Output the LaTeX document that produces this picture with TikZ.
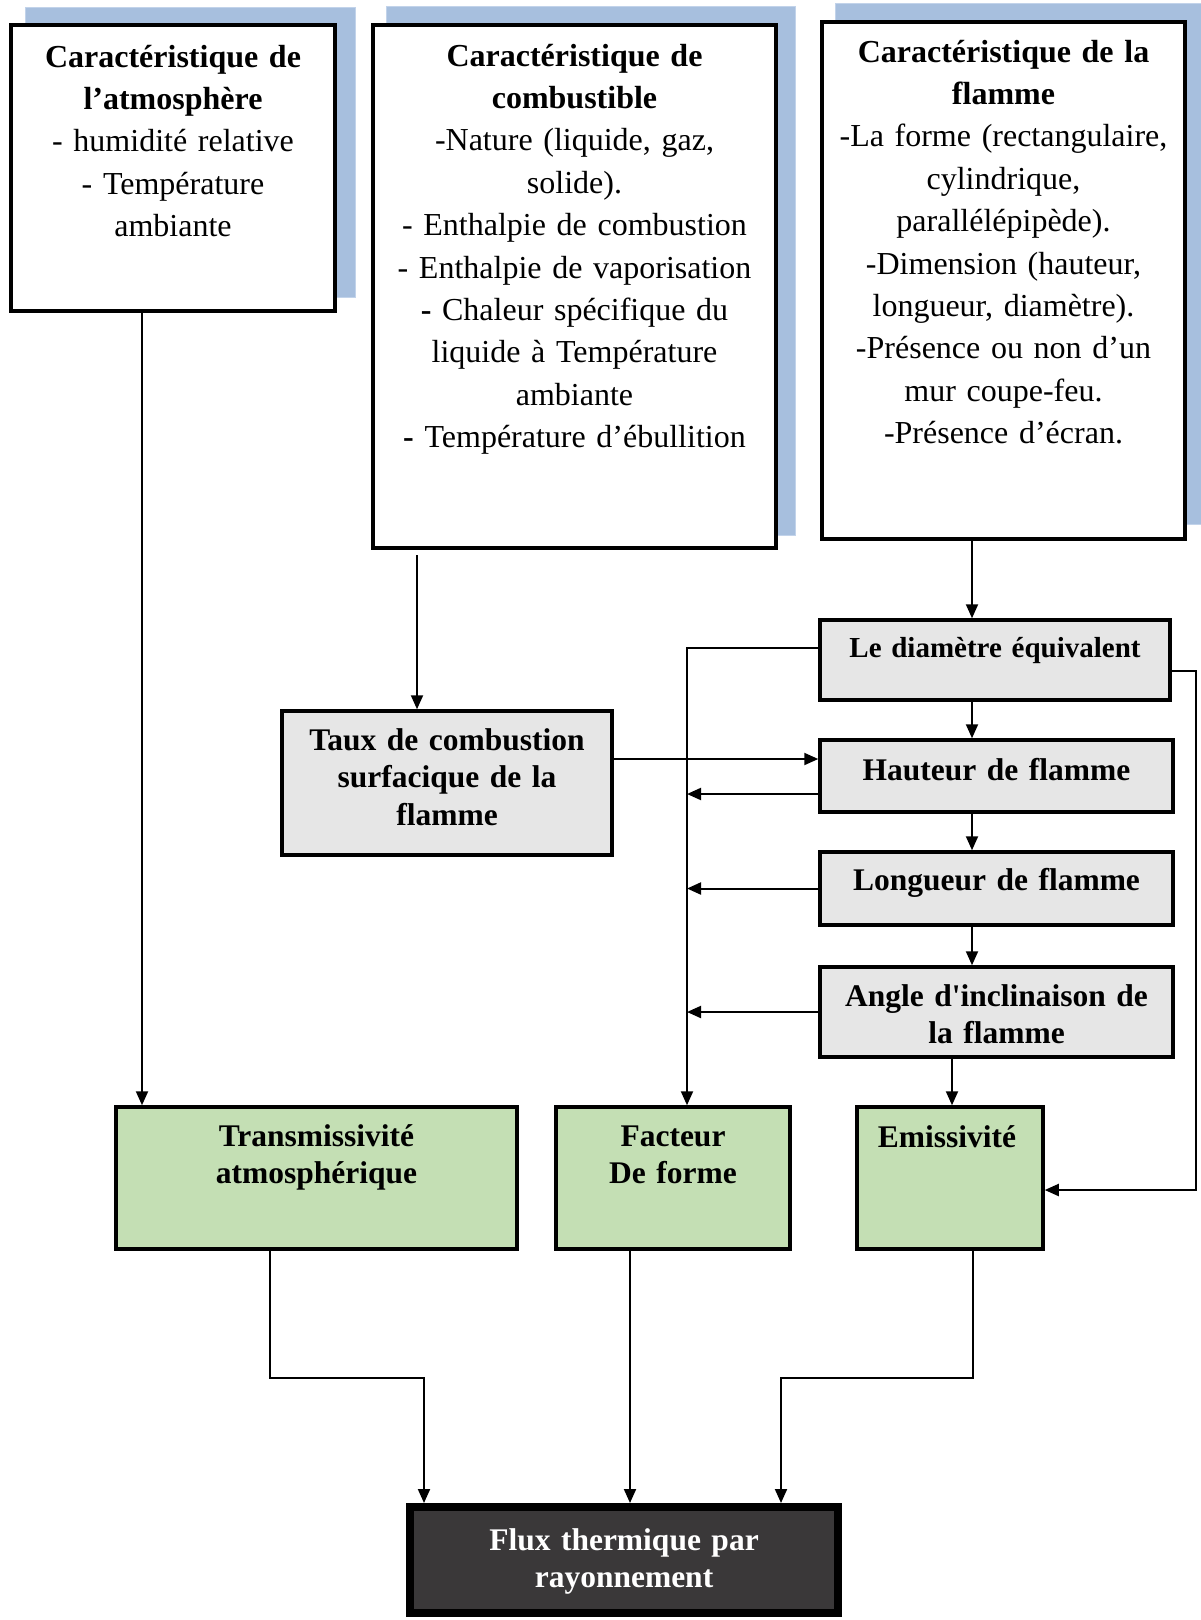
\documentclass[tikz,border=0pt]{standalone}
\usepackage{fontspec}
\setmainfont{Liberation Serif}
\usetikzlibrary{arrows.meta}
\definecolor{shadowblue}{HTML}{A7BFDE}
\definecolor{shadowedge}{HTML}{C2D3EA}
\definecolor{boxgray}{HTML}{E6E6E6}
\definecolor{boxgreen}{HTML}{C4DFB4}
\definecolor{boxdark}{HTML}{3A3839}
\begin{document}
\begin{tikzpicture}[x=1pt,y=-1pt,
  frame/.style={draw=black,fill=white,line width=4pt,inner sep=0pt},
  grayb/.style={draw=black,fill=boxgray,line width=3.5pt,inner sep=0pt},
  greenb/.style={draw=black,fill=boxgreen,line width=3.5pt,inner sep=0pt},
  darkb/.style={draw=black,fill=boxdark,line width=8pt,inner sep=0pt},
  shadowbox/.style={fill=shadowblue,draw=shadowedge,line width=1pt},
  txt/.style={anchor=base,align=center,inner sep=0pt,text width=420pt,font=\fontsize{32}{42.4}\selectfont},
  stxt/.style={anchor=base,align=center,inner sep=0pt,text width=420pt,font=\bfseries\fontsize{31.5}{37.5}\selectfont},
  arr/.style={line width=2pt,-{Triangle[length=14pt,width=12pt]}}
]
\useasboundingbox (0,0) rectangle (1200,1620);

% shadows of the three top boxes
\draw[shadowbox] (25,7) rectangle (355,297);
\draw[shadowbox] (386,6) rectangle (795,535);
\draw[shadowbox] (835,3) rectangle (1201,524);

% boxes
\node[frame,minimum width=324pt,minimum height=286pt] (atm) at (173,168) {};
\node[frame,minimum width=403pt,minimum height=523pt] (comb) at (574.5,286.5) {};
\node[frame,minimum width=363pt,minimum height=517pt] (flam) at (1003.5,280.5) {};

\node[grayb,minimum width=350pt,minimum height=80pt] (diam) at (995,660) {};
\node[grayb,minimum width=353pt,minimum height=72pt] (haut) at (996.5,776) {};
\node[grayb,minimum width=353pt,minimum height=73pt] (long) at (996.5,888.5) {};
\node[grayb,minimum width=353pt,minimum height=90pt] (angle) at (996.5,1012) {};
\node[grayb,minimum width=330pt,minimum height=144pt] (taux) at (447,783) {};

\node[greenb,minimum width=401pt,minimum height=142pt] (trans) at (316.5,1178) {};
\node[greenb,minimum width=234pt,minimum height=142pt] (fact) at (673,1178) {};
\node[greenb,minimum width=186pt,minimum height=142pt] (emis) at (950,1178) {};

\node[darkb,minimum width=428pt,minimum height=106pt] (flux) at (624,1560) {};

% texts
\node[txt] (atm-t) at (173,67) {\textbf{Caractéristique de}\\\textbf{l’atmosphère}\\- humidité relative\\- Température\\ambiante};
\node[txt] (comb-t) at (574.5,66) {\textbf{Caractéristique de}\\\textbf{combustible}\\-Nature (liquide, gaz,\\solide).\\- Enthalpie de combustion\\- Enthalpie de vaporisation\\\textbf{-} Chaleur spécifique du\\liquide à Température\\ambiante\\\textbf{-} Température d’ébullition};
\node[txt] (flam-t) at (1003.5,62) {\textbf{Caractéristique de la}\\\textbf{flamme}\\-La forme (rectangulaire,\\cylindrique,\\parallélépipède).\\-Dimension (hauteur,\\longueur, diamètre).\\-Présence ou non d’un\\mur coupe-feu.\\-Présence d’écran.};

\node[stxt,font=\bfseries\fontsize{29}{37.5}\selectfont] (diam-t) at (995,657) {Le diamètre équivalent};
\node[stxt] (haut-t) at (996.5,780) {Hauteur de flamme};
\node[stxt] (long-t) at (996.5,890) {Longueur de flamme};
\node[stxt] (angle-t) at (996.5,1006) {Angle d\textquotesingle inclinaison de\\la flamme};
\node[stxt] (taux-t) at (447,750) {Taux de combustion\\surfacique de la\\flamme};

\node[stxt] (trans-t) at (316.5,1146) {Transmissivité\\atmosphérique};
\node[stxt] (fact-t) at (673,1146) {Facteur\\De forme};
\node[stxt] (emis-t) at (947,1147) {Emissivité};

\node[stxt,text=white] (flux-t) at (624,1550) {Flux thermique par\\rayonnement};

% connector levels
\coordinate (xa) at (142,0);
\coordinate (xb) at (417,0);
\coordinate (xc) at (972,0);
\coordinate (xd) at (952,0);
\coordinate (xbus) at (687,0);
\coordinate (xr) at (1196,0);
\coordinate (xt) at (270,0);
\coordinate (xe) at (973,0);
\coordinate (xf1) at (424,0);
\coordinate (xf2) at (630,0);
\coordinate (xf3) at (781,0);
\coordinate (yj) at (0,1378);
\coordinate (combgap) at ([yshift=-5pt]comb.south);
\coordinate (yd) at ([yshift=12pt]diam.west);
\coordinate (yh) at ([yshift=-18pt]haut.west);
\coordinate (yt) at ([yshift=24pt]taux.east);
\coordinate (ydr) at ([yshift=-11pt]diam.east);
\coordinate (yer) at ([yshift=-12pt]emis.east);

% connectors
\draw[arr] (atm.south -| xa) -- (trans.north -| xa);
\draw[arr] (combgap -| xb) -- (taux.north -| xb);
\draw[arr] (flam.south -| xc) -- (diam.north -| xc);
\draw[arr] (diam.south -| xc) -- (haut.north -| xc);
\draw[arr] (haut.south -| xc) -- (long.north -| xc);
\draw[arr] (long.south -| xc) -- (angle.north -| xc);
\draw[arr] (angle.south -| xd) -- (emis.north -| xd);

\draw[arr] (yd) -| (fact.north -| xbus);
\draw[arr] (yh) -- (yh -| xbus);
\draw[arr] (long.west) -- (long.west -| xbus);
\draw[arr] (angle.west) -- (angle.west -| xbus);
\draw[arr] (yt) -- (yt -| haut.west);
\draw[arr] (ydr) -- (ydr -| xr) -- (yer -| xr) -- (yer);

\draw[arr] (trans.south -| xt) -- (yj -| xt) -- (yj -| xf1) -- (flux.north -| xf1);
\draw[arr] (fact.south -| xf2) -- (flux.north -| xf2);
\draw[arr] (emis.south -| xe) -- (yj -| xe) -- (yj -| xf3) -- (flux.north -| xf3);
\end{tikzpicture}
\end{document}
